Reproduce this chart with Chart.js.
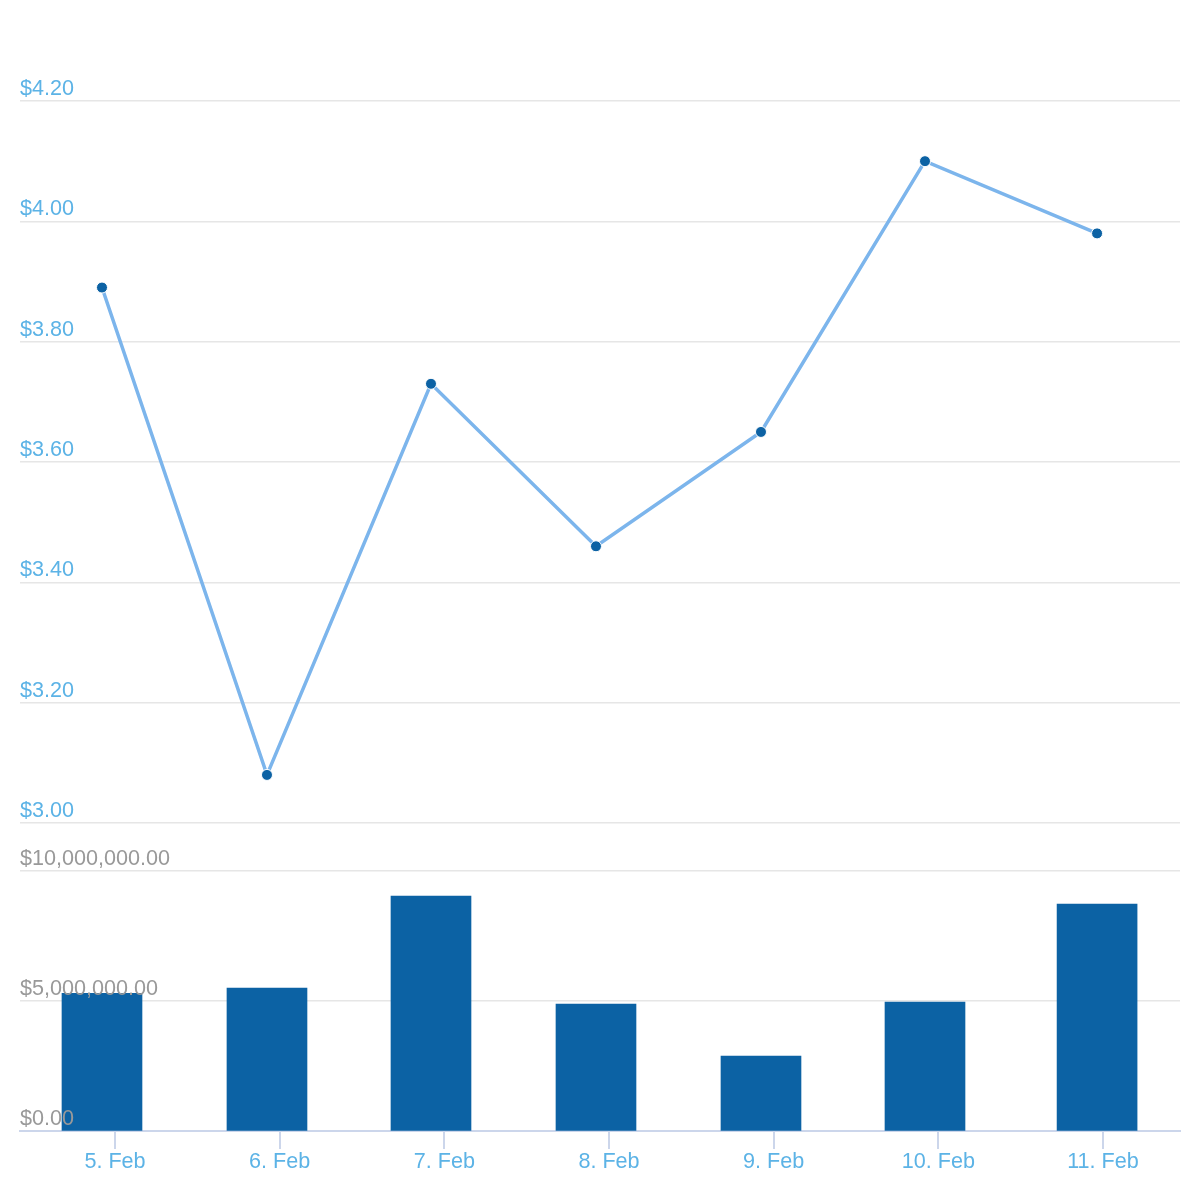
<!DOCTYPE html>
<html>
<head>
<meta charset="utf-8">
<script src="https://cdn.jsdelivr.net/npm/chart.js@4/dist/chart.umd.min.js"></script>
<style>
  html, body { margin: 0; padding: 0; background: #fff; }
  #wrap { width: 1200px; height: 1200px; }
</style>
</head>
<body>
<div id="wrap"><canvas id="chart" width="1200" height="1200"></canvas></div>
<script>
// ===== Data =====
const dayTicks = [5, 6, 7, 8, 9, 10, 11];
const dayLabels = ['5. Feb', '6. Feb', '7. Feb', '8. Feb', '9. Feb', '10. Feb', '11. Feb'];
// trade times, in days of February
const tradeDays = [4.921, 5.923, 6.919, 7.921, 8.923, 9.919, 10.964];
const prices = [3.89, 3.08, 3.73, 3.46, 3.65, 4.10, 3.98];
const volumes = [5300000, 5500000, 9040000, 4880000, 2880000, 4960000, 8730000];
const priceTicks = [3.0, 3.2, 3.4, 3.6, 3.8, 4.0, 4.2];
const volumeTicks = [0, 5000000, 10000000];

// ===== Colors =====
const colors = {
  line: '#7cb5ec',
  dark: '#0c62a4',
  blueText: '#5cb3e6',
  greyText: '#999999',
  grid: '#e6e6e6',
  axis: '#ccd6eb'
};

Chart.defaults.font.family = "'Liberation Sans', Arial, sans-serif";
Chart.defaults.font.size = 21.6;

const money = v => '$' + v.toLocaleString('en-US', { minimumFractionDigits: 2, maximumFractionDigits: 2 });
const setTicks = list => axis => { axis.ticks = list.map(v => ({ value: v })); };

// pane layout: price pane on top (3.00 .. 4.20), volume pane below (0 .. 10M)
const priceRange = { min: 2.4881, max: 4.2 };
const volumeRange = { min: 0, max: 39615000 };

new Chart(document.getElementById('chart'), {
  type: 'line',
  data: {
    datasets: [
      {
        type: 'line',
        data: tradeDays.map((d, i) => ({ x: d, y: prices[i] })),
        xAxisID: 'x',
        yAxisID: 'yPrice',
        borderColor: colors.line,
        borderWidth: 3.5,
        tension: 0,
        pointRadius: 5.5,
        pointBackgroundColor: colors.dark,
        pointBorderColor: '#ffffff',
        pointBorderWidth: 1,
        order: 1
      },
      {
        type: 'bar',
        data: tradeDays.map((d, i) => ({ x: d, y: volumes[i] })),
        xAxisID: 'x',
        yAxisID: 'yVol',
        backgroundColor: colors.dark,
        barThickness: 80,
        borderWidth: 0,
        order: 2
      }
    ]
  },
  options: {
    responsive: false,
    animation: false,
    layout: { padding: { left: 20, right: 20, top: 101, bottom: 25 } },
    plugins: { legend: { display: false }, tooltip: { enabled: false } },
    scales: {
      x: {
        type: 'linear',
        position: 'bottom',
        min: 4.4231,
        max: 11.4676,
        offset: false,
        afterBuildTicks: setTicks(dayTicks),
        grid: { drawOnChartArea: false, drawTicks: true, tickLength: 18, color: colors.axis, lineWidth: 2, offset: false },
        border: { display: true, color: colors.axis, width: 2 },
        ticks: {
          color: colors.blueText,
          padding: 0,
          autoSkip: false,
          maxRotation: 0,
          callback: (v, i) => dayLabels[i]
        }
      },
      yPrice: {
        type: 'linear',
        position: 'left',
        min: priceRange.min,
        max: priceRange.max,
        afterBuildTicks: setTicks(priceTicks),
        grid: { color: colors.grid, lineWidth: 1.5, drawTicks: false },
        border: { display: false },
        ticks: {
          mirror: true,
          padding: 0,
          labelOffset: -12,
          color: colors.blueText,
          callback: v => money(v)
        }
      },
      yVol: {
        type: 'linear',
        position: 'left',
        min: volumeRange.min,
        max: volumeRange.max,
        afterBuildTicks: setTicks(volumeTicks),
        grid: { color: colors.grid, lineWidth: 1.5, drawTicks: false, z: -1 },
        border: { display: false },
        // volume labels sit above the bars
        ticks: {
          z: 1,
          mirror: true,
          padding: 0,
          labelOffset: -12,
          color: colors.greyText,
          callback: v => money(v)
        }
      }
    }
  }
});
</script>
</body>
</html>
